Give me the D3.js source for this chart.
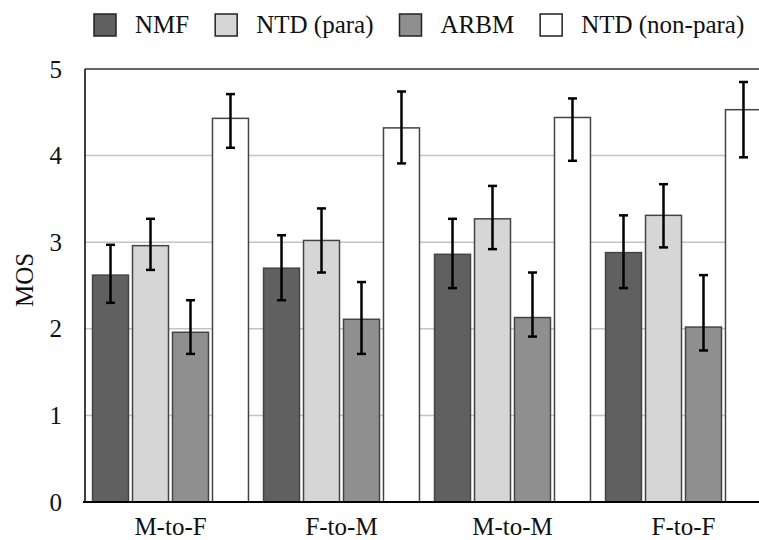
<!DOCTYPE html>
<html>
<head>
<meta charset="utf-8">
<script src="https://cdn.jsdelivr.net/npm/d3@7"></script>
<style>
  body { margin: 0; background: #fff; }
  svg { display: block; }
  svg text { font-family: "Times New Roman", "Liberation Serif", "DejaVu Serif", serif; fill: #111; }
</style>
</head>
<body>
<svg id="chart" width="759" height="540"></svg>
<script>
var groups = ["M-to-F", "F-to-M", "M-to-M", "F-to-F"];
var seriesNames = ["NMF", "NTD (para)", "ARBM", "NTD (non-para)"];
var seriesColors = ["#606060", "#d6d6d6", "#8f8f8f", "#ffffff"];

// mean opinion scores, with lower / upper end of each error bar
var nmfMean = [2.62, 2.70, 2.86, 2.88];
var nmfLow = [2.30, 2.33, 2.47, 2.47];
var nmfHigh = [2.97, 3.08, 3.27, 3.31];

var paraMean = [2.96, 3.02, 3.27, 3.31];
var paraLow = [2.68, 2.65, 2.92, 2.94];
var paraHigh = [3.27, 3.39, 3.65, 3.67];

var arbmMean = [1.96, 2.11, 2.13, 2.02];
var arbmLow = [1.71, 1.71, 1.91, 1.75];
var arbmHigh = [2.33, 2.54, 2.65, 2.62];

var nonParaMean = [4.43, 4.32, 4.44, 4.53];
var nonParaLow = [4.09, 3.91, 3.94, 3.98];
var nonParaHigh = [4.71, 4.74, 4.66, 4.85];

var yTicks = [0, 1, 2, 3, 4, 5];

var means = [nmfMean, paraMean, arbmMean, nonParaMean];
var lows = [nmfLow, paraLow, arbmLow, nonParaLow];
var highs = [nmfHigh, paraHigh, arbmHigh, nonParaHigh];

var svg = d3.select('#chart');
var chartWidth = 759;
var plotLeft = 85, plotTop = 69, plotBottom = 502;

var y = d3.scaleLinear().domain([0, 5]).range([plotBottom, plotTop]);
// the last group runs off the right edge, as in the original
var x0 = d3.scaleBand().domain(groups).range([plotLeft, 769]).paddingInner(0.088).paddingOuter(0.044);
var x1 = d3.scaleBand().domain(seriesNames).range([0, x0.bandwidth()]).paddingInner(0.1);

// flatten into one record per bar
var bars = [];
groups.forEach(function (g, gi) {
  seriesNames.forEach(function (s, si) {
    bars.push({ group: g, series: s, si: si, mean: means[si][gi], low: lows[si][gi], high: highs[si][gi] });
  });
});

// grid lines
svg.append('g')
  .selectAll('line')
  .data(yTicks.filter(function (t) { return t > 0 && t < 5; }))
  .enter()
  .append('line')
  .attr('x1', plotLeft).attr('x2', chartWidth)
  .attr('y1', function (d) { return y(d); }).attr('y2', function (d) { return y(d); })
  .attr('stroke', '#c4c4c4')
  .attr('stroke-width', 1.5);

// top frame line
svg.append('line')
  .attr('x1', plotLeft).attr('x2', chartWidth)
  .attr('y1', y(5)).attr('y2', y(5))
  .attr('stroke', '#333').attr('stroke-width', 1.5);

// bars
svg.append('g')
  .selectAll('rect')
  .data(bars)
  .enter()
  .append('rect')
  .attr('x', function (d) { return x0(d.group) + x1(d.series); })
  .attr('y', function (d) { return y(d.mean); })
  .attr('width', x1.bandwidth())
  .attr('height', function (d) { return y(0) - y(d.mean); })
  .attr('fill', function (d) { return seriesColors[d.si]; })
  .attr('stroke', '#444')
  .attr('stroke-width', 1.5);

// error bars
var errG = svg.append('g').attr('stroke', '#000').attr('stroke-width', 2.5);
var capHalf = 4.5;
bars.forEach(function (d) {
  var cx = x0(d.group) + x1(d.series) + x1.bandwidth() / 2;
  errG.append('line').attr('x1', cx).attr('x2', cx).attr('y1', y(d.high)).attr('y2', y(d.low));
  errG.append('line').attr('x1', cx - capHalf).attr('x2', cx + capHalf).attr('y1', y(d.high)).attr('y2', y(d.high));
  errG.append('line').attr('x1', cx - capHalf).attr('x2', cx + capHalf).attr('y1', y(d.low)).attr('y2', y(d.low));
});

// y axis line and baseline
svg.append('line')
  .attr('x1', plotLeft).attr('x2', plotLeft)
  .attr('y1', y(5)).attr('y2', y(0))
  .attr('stroke', '#000').attr('stroke-width', 1.5);
svg.append('line')
  .attr('x1', 83).attr('x2', chartWidth)
  .attr('y1', y(0)).attr('y2', y(0))
  .attr('stroke', '#000').attr('stroke-width', 2);

// y tick labels
svg.append('g')
  .selectAll('text')
  .data(yTicks)
  .enter()
  .append('text')
  .attr('x', 62)
  .attr('y', function (d) { return y(d); })
  .attr('dy', '0.34em')
  .attr('text-anchor', 'end')
  .attr('font-size', 25)
  .text(function (d) { return d; });

// x labels
svg.append('g')
  .selectAll('text')
  .data(groups)
  .enter()
  .append('text')
  .attr('x', function (d) { return x0(d) + x0.bandwidth() / 2; })
  .attr('y', 535)
  .attr('text-anchor', 'middle')
  .attr('font-size', 25)
  .text(function (d) { return d; });

// y axis title
svg.append('text')
  .attr('transform', 'translate(33,280) rotate(-90)')
  .attr('text-anchor', 'middle')
  .attr('font-size', 25)
  .text('MOS');

// legend
var legend = svg.append('g');
var lx = 94;
seriesNames.forEach(function (s, i) {
  legend.append('rect')
    .attr('x', lx).attr('y', 14)
    .attr('width', 22).attr('height', 22)
    .attr('fill', seriesColors[i])
    .attr('stroke', '#222').attr('stroke-width', 1.5);
  var t = legend.append('text')
    .attr('x', lx + 41).attr('y', 33)
    .attr('font-size', 25)
    .text(s);
  lx += 41 + t.node().getComputedTextLength() + 26;
});
</script>
</body>
</html>
